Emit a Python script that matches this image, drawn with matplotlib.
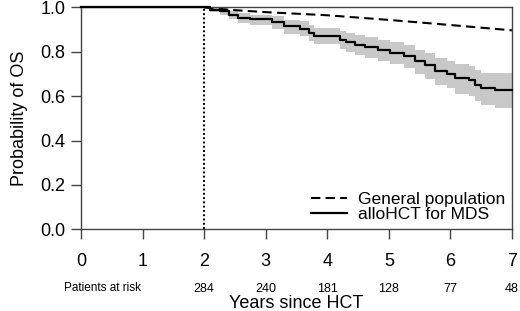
import matplotlib.pyplot as plt

plt.rcParams['font.family'] = ['Liberation Sans', 'DejaVu Sans']

# Kaplan-Meier estimate for alloHCT (conditional on 2-year survival)
km_time = [0, 2.0, 2.1, 2.25, 2.4, 2.55, 2.75, 3.1, 3.3, 3.55, 3.7, 3.78, 4.2, 4.3,
           4.45, 4.62, 4.82, 5.02, 5.25, 5.42, 5.58, 5.75, 5.95, 6.08, 6.3, 6.4,
           6.5, 6.72, 7.0]
km_surv = [1.0, 1.0, 0.990, 0.982, 0.968, 0.953, 0.946, 0.934, 0.915, 0.905, 0.887,
           0.873, 0.855, 0.843, 0.833, 0.822, 0.810, 0.797, 0.780, 0.757, 0.739,
           0.715, 0.702, 0.682, 0.675, 0.652, 0.637, 0.626, 0.626]
km_lower = [1.0, 1.0, 0.978, 0.966, 0.948, 0.930, 0.921, 0.903, 0.882, 0.870, 0.850,
            0.834, 0.813, 0.800, 0.786, 0.773, 0.760, 0.744, 0.725, 0.699, 0.678,
            0.651, 0.636, 0.612, 0.603, 0.577, 0.560, 0.548, 0.548]
km_upper = [1.0, 1.0, 1.0, 0.995, 0.985, 0.974, 0.968, 0.960, 0.945, 0.937, 0.921,
            0.908, 0.893, 0.883, 0.875, 0.866, 0.855, 0.845, 0.830, 0.810, 0.793,
            0.772, 0.761, 0.744, 0.738, 0.718, 0.705, 0.705, 0.705]

# Expected survival of the matched general population
gp_time = [2.0, 2.5, 3.0, 4.0, 5.0, 6.0, 7.0]
gp_surv = [1.0, 0.988, 0.979, 0.965, 0.944, 0.921, 0.897]

risk_time = [2, 3, 4, 5, 6, 7]
risk_n = [284, 240, 181, 128, 77, 48]

SPINE = '#444444'

fig = plt.figure(figsize=(5.2, 3.11), dpi=100)
ax = fig.add_axes([0.1558, 0.2627, 0.8288, 0.7132])

ax.fill_between(km_time, km_lower, km_upper, step='post', color='#c8c8c8', lw=0)
ax.plot(gp_time, gp_surv, color='black', lw=1.5, ls=(0, (4.5, 2.5)),
        label='General population')
ax.step(km_time, km_surv, where='post', color='black', lw=1.6, clip_on=False,
        label='alloHCT for MDS', zorder=3)
ax.axvline(2, color='black', lw=1.4, ls=(0, (1, 1.2)))

ax.set_xlim(0, 7)
ax.set_ylim(0, 1)
ax.set_xticks(range(8))
ax.set_yticks([0, 0.2, 0.4, 0.6, 0.8, 1.0])
ax.set_yticklabels(['0.0', '0.2', '0.4', '0.6', '0.8', '1.0'])
ax.tick_params(labelsize=13, length=7, width=1, color=SPINE, pad=4)
ax.tick_params(axis='x', pad=10)
for s in ax.spines.values():
    s.set_color(SPINE)
    s.set_linewidth(1)

ax.set_ylabel('Probability of OS', fontsize=13, labelpad=9)
ax.set_xlabel('Years since HCT', fontsize=13, labelpad=18)

# numbers at risk below the axis
ax.text(0.35, -0.265, 'Patients at risk', transform=ax.get_xaxis_transform(),
        ha='center', va='center', fontsize=8.5)
for t, n in zip(risk_time, risk_n):
    ax.text(t, -0.27, str(n), transform=ax.get_xaxis_transform(),
            ha='center', va='center', fontsize=9)

ax.legend(loc='lower right', frameon=False, fontsize=12.5, handlelength=2.1,
          handletextpad=0.6, labelspacing=0.0, borderaxespad=0.0)

fig.savefig('out.png', dpi=100)
